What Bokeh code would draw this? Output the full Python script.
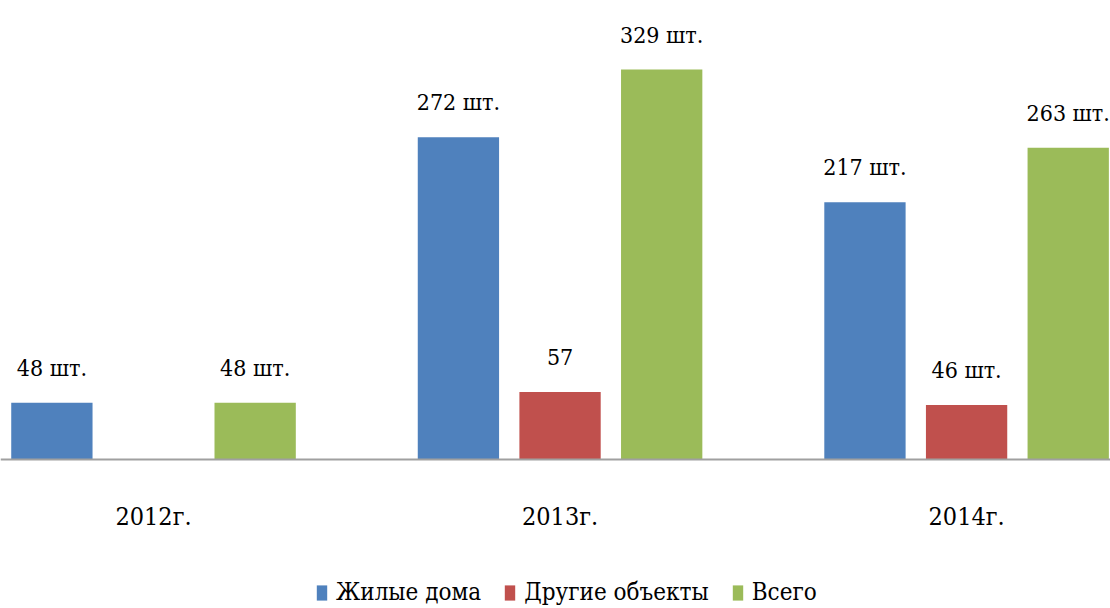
from bokeh.plotting import figure
from bokeh.models import ColumnDataSource, Range1d, Legend, LegendItem, Span
from bokeh.core.properties import value
from bokeh.embed import file_html
from bokeh.resources import INLINE

categories = ["2012г.", "2013г.", "2014г."]
series_names = ["Жилые дома", "Другие объекты", "Всего"]
houses = [48, 272, 217]
other = [0, 57, 46]
total = [48, 329, 263]
houses_labels = ["48 шт.", "272 шт.", "217 шт."]
other_labels = ["", "57", "46 шт."]
total_labels = ["48 шт.", "329 шт.", "263 шт."]
colors = ["#4F81BD", "#C0504D", "#9BBB59"]

FONT = "DejaVu Serif Condensed"

p = figure(width=1110, height=608, output_backend="svg", toolbar_location=None,
           x_range=Range1d(0.1236, 2.854), y_range=Range1d(-125.7, 387.3),
           x_axis_location=None, y_axis_location=None, min_border=0)
p.xgrid.visible = False
p.ygrid.visible = False
p.outline_line_color = None

centers = [i + 0.5 for i in range(len(categories))]
offsets = [-0.25, 0.0, 0.25]
series = [houses, other, total]
labels = [houses_labels, other_labels, total_labels]

renderers = []
for vals, labs, off, col in zip(series, labels, offsets, colors):
    src = ColumnDataSource(dict(x=[c + off for c in centers], top=vals, lab=labs))
    r = p.vbar(x="x", top="top", bottom=0, width=0.2, source=src,
               fill_color=col, line_color=None)
    renderers.append(r)
    p.text(x="x", y="top", text="lab", source=src, text_align="center",
           text_baseline="middle", y_offset=-35,
           text_font=value(FONT), text_font_size="23px", text_color="#000000")

p.add_layout(Span(location=0, dimension="width", line_color="#A0A0A0", line_width=2))

cat_src = ColumnDataSource(dict(x=centers, y=[0] * len(centers), lab=categories))
p.text(x="x", y="y", text="lab", source=cat_src, text_align="center",
       text_baseline="middle", y_offset=57,
       text_font=value(FONT), text_font_size="25px", text_color="#000000")

legend = Legend(items=[LegendItem(label=n, renderers=[r]) for n, r in zip(series_names, renderers)],
                orientation="horizontal", location=(315, 2),
                glyph_width=13, glyph_height=19, label_standoff=8, spacing=22,
                padding=0, margin=0, border_line_color=None, background_fill_alpha=0,
                label_text_font=FONT, label_text_font_size="24px", label_text_color="#000000")
p.add_layout(legend, "center")

open("out.html", "w").write(file_html(p, INLINE))
